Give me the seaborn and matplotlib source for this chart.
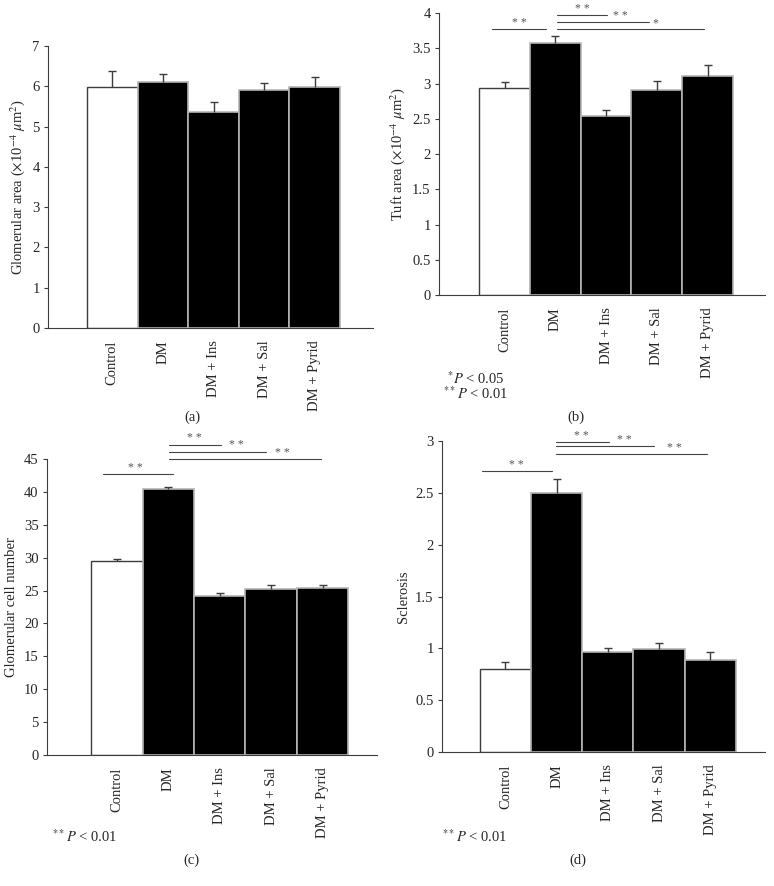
import numpy as np
import seaborn as sns
import matplotlib.pyplot as plt
from matplotlib.ticker import FuncFormatter


groups = ['Control', 'DM', 'DM + Ins', 'DM + Sal', 'DM + Pyrid']

# (a) glomerular area
glom_area = [5.97, 6.10, 5.37, 5.90, 5.98]
glom_area_err = [0.42, 0.21, 0.24, 0.17, 0.24]

# (b) tuft area
tuft_area = [2.93, 3.57, 2.54, 2.91, 3.11]
tuft_area_err = [0.09, 0.11, 0.08, 0.12, 0.15]

# (c) glomerular cell number
cell_number = [29.5, 40.4, 24.2, 25.3, 25.4]
cell_number_err = [0.3, 0.3, 0.5, 0.6, 0.45]

# (d) sclerosis
sclerosis = [0.80, 2.50, 0.965, 0.99, 0.89]
sclerosis_err = [0.065, 0.135, 0.04, 0.06, 0.07]

# significance comparisons: (group from, group to, label)
sig_b = [('Control', 'DM', '**'), ('DM', 'DM + Ins', '**'),
         ('DM', 'DM + Sal', '**'), ('DM', 'DM + Pyrid', '*')]
sig_cd = [('Control', 'DM', '**'), ('DM', 'DM + Ins', '**'),
          ('DM', 'DM + Sal', '**'), ('DM', 'DM + Pyrid', '**')]

W, H = 774, 886
FS = 10.5
sns.set_theme(style='white')
plt.rcParams['font.family'] = ['Liberation Serif', 'DejaVu Serif']
plt.rcParams['mathtext.fontset'] = 'stix'

EDGE = '#3c3c3c'
fig = plt.figure(figsize=(W / 100, H / 100), dpi=100)


def add_ax(left, right, top, bottom):
    return fig.add_axes([left / W, 1 - bottom / H, (right - left) / W, (bottom - top) / H])


def draw_panel(ax, means, errs, ymax, ystep, ylabel, xlim):
    colors = ['white'] + ['black'] * (len(groups) - 1)
    sns.barplot(x=groups, y=means, hue=groups, palette=colors, width=1.0,
                legend=False, ax=ax, saturation=1)
    for i, p in enumerate(ax.patches):
        if i == 0:
            p.set_edgecolor(EDGE)
            p.set_linewidth(1.0)
        else:
            p.set_edgecolor('#b5b5b5')
            p.set_linewidth(1.2)
        p.set_zorder(2)
    x = np.arange(len(groups))
    _, caps, _ = ax.errorbar(x, means, yerr=[np.zeros(len(means)), errs], fmt='none',
                             ecolor=EDGE, elinewidth=1.0, capsize=3, capthick=1.0, zorder=3)
    caps[0].set_visible(False)
    ax.set_ylim(0, ymax)
    ax.set_xlim(*xlim)
    ticks = np.arange(0, ymax + ystep / 2, ystep)
    ax.set_yticks(ticks)
    ax.yaxis.set_major_formatter(FuncFormatter(lambda v, pos: f'{v:g}'))
    ax.set_ylabel(ylabel, fontsize=FS, labelpad=4)
    ax.set_xlabel('')
    ax.tick_params(axis='y', left=True, length=3, width=0.8, color=EDGE, labelsize=FS, pad=3)
    ax.tick_params(axis='x', bottom=False, labelsize=FS, pad=3)
    for lbl in ax.get_xticklabels():
        lbl.set_rotation(90)
        lbl.set_va('top')
    for side in ['top', 'right']:
        ax.spines[side].set_visible(False)
    for side in ['left', 'bottom']:
        ax.spines[side].set_color(EDGE)
        ax.spines[side].set_linewidth(0.8)
    ax.set_facecolor('white')


def draw_sig(ax, comps, spans, heights, label_pos, dy):
    for (g0, g1, lab), (x0, x1), y, (lx, ly) in zip(comps, spans, heights, label_pos):
        ax.plot([x0, x1], [y, y], color='#444444', lw=0.8, clip_on=False, zorder=4)
        ax.text(lx, ly + dy, ' '.join(lab), ha='center', va='bottom', fontsize=8.5,
                color='#555555', clip_on=False)


# (a)
ax_a = add_ax(48, 373, 46, 328)
draw_panel(ax_a, glom_area, glom_area_err, 7, 1,
           r'Glomerular area ($\times$10$^{-4}$ $\mu$m$^2$)', (-1.27, 5.15))

# (b)
ax_b = add_ax(439, 765, 13, 295)
draw_panel(ax_b, tuft_area, tuft_area_err, 4, 0.5,
           r'Tuft area ($\times$10$^{-4}$ $\mu$m$^2$)', (-1.29, 5.13))
draw_sig(ax_b, sig_b,
         [(-0.24, 0.82), (1.04, 2.02), (1.04, 2.84), (1.04, 3.92)],
         [3.77, 3.97, 3.87, 3.77],
         [(0.3, 3.77), (1.53, 3.97), (2.29, 3.87), (2.98, 3.77)], 0.0)

# (c)
ax_c = add_ax(47, 377, 459, 755)
draw_panel(ax_c, cell_number, cell_number_err, 45, 5,
           'Glomerular cell number', (-1.36, 5.06))
draw_sig(ax_c, sig_cd,
         [(-0.27, 1.1), (1.02, 2.03), (1.02, 2.9), (1.02, 3.97)],
         [42.7, 47.2, 46.1, 45.0],
         [(0.36, 42.7), (1.5, 47.2), (2.32, 46.1), (3.22, 45.0)], 0.05)

# (d)
ax_d = add_ax(442, 765, 441, 752)
draw_panel(ax_d, sclerosis, sclerosis_err, 3, 0.5, 'Sclerosis', (-1.24, 5.07))
draw_sig(ax_d, sig_cd,
         [(-0.46, 0.91), (0.98, 2.02), (0.98, 2.9), (0.98, 3.93)],
         [2.71, 2.99, 2.95, 2.87],
         [(0.22, 2.71), (1.49, 2.99), (2.33, 2.95), (3.29, 2.87)], 0.0)

# footnotes and panel labels
fig.text(447 / W, 1 - 379 / H, r'$^{*}$$P$ < 0.05', fontsize=FS, va='center')
fig.text(443 / W, 1 - 394 / H, r'$^{**}$$P$ < 0.01', fontsize=FS, va='center')
fig.text(52 / W, 1 - 837 / H, r'$^{**}$$P$ < 0.01', fontsize=FS, va='center')
fig.text(442 / W, 1 - 837 / H, r'$^{**}$$P$ < 0.01', fontsize=FS, va='center')

fig.text(192 / W, 1 - 417 / H, '(a)', fontsize=FS, ha='center', va='center')
fig.text(576 / W, 1 - 417 / H, '(b)', fontsize=FS, ha='center', va='center')
fig.text(191 / W, 1 - 860 / H, '(c)', fontsize=FS, ha='center', va='center')
fig.text(578 / W, 1 - 860 / H, '(d)', fontsize=FS, ha='center', va='center')

plt.savefig('out.png', dpi=100, facecolor='white')
